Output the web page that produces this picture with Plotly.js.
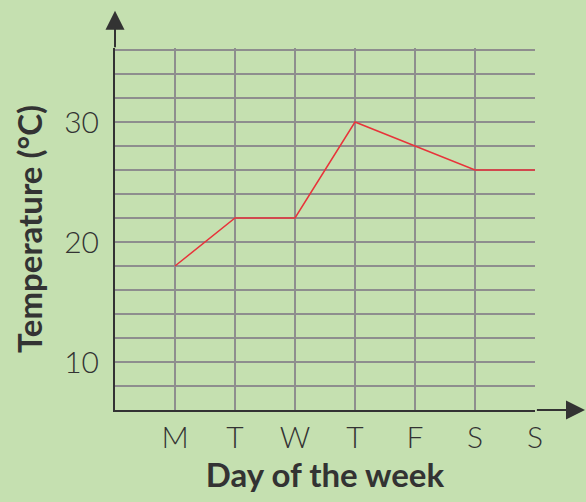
<!DOCTYPE html>
<html>
<head>
<meta charset="utf-8">
<script src="https://cdn.plot.ly/plotly-3.0.1.min.js"></script>
<style>html,body{margin:0;padding:0;background:#c5e0b0;}#chart{width:586px;height:502px;}</style>
</head>
<body>
<div id="chart"></div>
<script>
const days = ['M', 'T', 'W', 'T', 'F', 'S', 'S'];
const dayIndex = [1, 2, 3, 4, 5, 6, 7];
const temperatures = [18, 22, 22, 30, 28, 26, 26];
const xGridVals = [0, 1, 2, 3, 4, 5, 6, 7];
const yGridVals = [6, 8, 10, 12, 14, 16, 18, 20, 22, 24, 26, 28, 30, 32, 34, 36];
const yLabelVals = [10, 20, 30];

const ink = '#333333';
const gridColor = '#8e8e8e';
const fontFam = 'Lato, "Open Sans", sans-serif';

const trace = {
  x: dayIndex,
  y: temperatures,
  type: 'scatter',
  mode: 'lines',
  line: {color: '#e8333a', width: 1.5},
  hoverinfo: 'skip'
};

const layout = {
  width: 586,
  height: 502,
  margin: {l: 115, r: 51, t: 48, b: 92},
  paper_bgcolor: '#c5e0b0',
  plot_bgcolor: '#c5e0b0',
  showlegend: false,
  font: {family: fontFam, color: ink},
  xaxis: {
    range: [0, 7],
    tickmode: 'array',
    tickvals: xGridVals,
    ticktext: [''].concat(days),
    ticks: '',
    ticklen: 0,
    ticklabelstandoff: 0,
    tickfont: {size: 30, color: ink, family: fontFam, weight: 300},
    showgrid: true,
    gridcolor: gridColor,
    gridwidth: 2,
    zeroline: false,
    showline: true,
    linecolor: ink,
    linewidth: 2,
    fixedrange: true,
    title: {text: 'Day of the week', font: {size: 33, color: ink, family: fontFam, weight: 'bold'}, standoff: 10}
  },
  yaxis: {
    range: [6, 36.1667],
    tickmode: 'array',
    tickvals: yGridVals,
    ticktext: yGridVals.map(v => yLabelVals.includes(v) ? String(v) : ''),
    ticks: '',
    ticklen: 0,
    ticklabelstandoff: 8,
    tickfont: {size: 30, color: ink, family: fontFam, weight: 300},
    showgrid: true,
    gridcolor: gridColor,
    gridwidth: 2,
    zeroline: false,
    showline: true,
    linecolor: ink,
    linewidth: 2,
    fixedrange: true,
    title: {text: 'Temperature (°C)', font: {size: 33, color: ink, family: fontFam, weight: 'bold'}, standoff: 12}
  },
  annotations: [
    {
      xref: 'paper', yref: 'paper', x: 1.12, y: 0,
      ax: -50, ay: 0, axref: 'pixel', ayref: 'pixel',
      showarrow: true, arrowhead: 2, arrowsize: 1.9, arrowwidth: 2, arrowcolor: ink, text: ''
    },
    {
      xref: 'paper', yref: 'paper', x: 0, y: 1.103,
      ax: 0, ay: 38, axref: 'pixel', ayref: 'pixel',
      showarrow: true, arrowhead: 2, arrowsize: 1.9, arrowwidth: 2, arrowcolor: ink, text: ''
    }
  ]
};

Plotly.newPlot('chart', [trace], layout, {displayModeBar: false, staticPlot: true});
</script>
</body>
</html>
